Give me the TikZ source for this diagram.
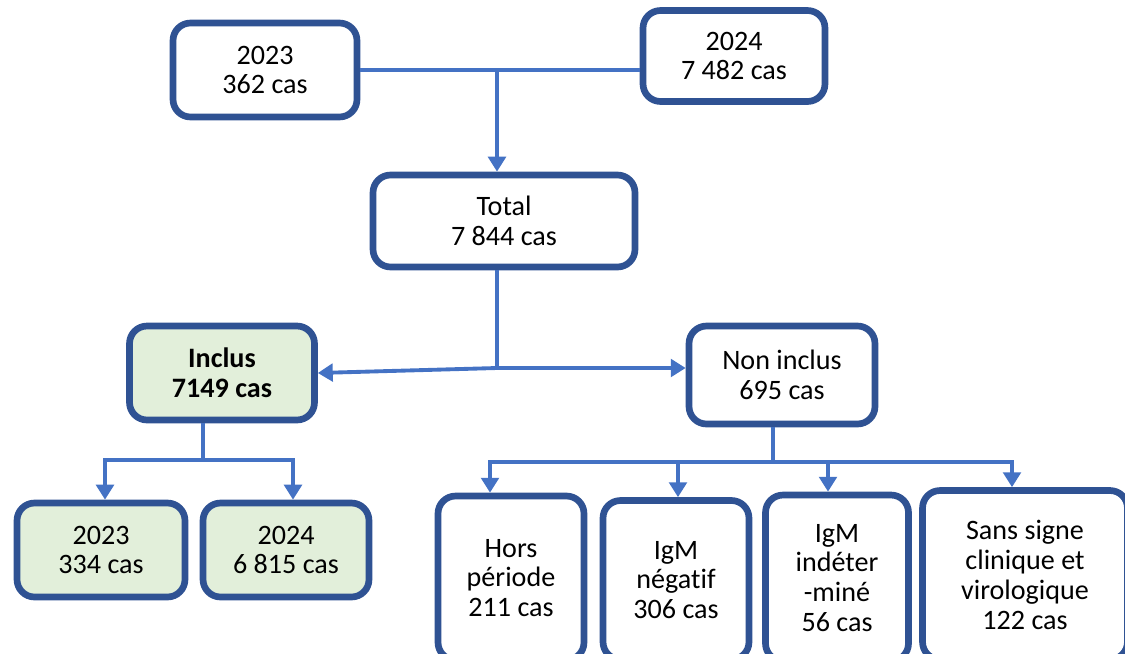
\documentclass[tikz,border=0pt]{standalone}
\usepackage{fontspec}
\setmainfont{Carlito}[Ligatures=NoCommon]
\usetikzlibrary{arrows.meta}
\definecolor{boxblue}{HTML}{2F5293}
\definecolor{linkblue}{HTML}{4472C4}
\definecolor{incgreen}{HTML}{E2EFDA}

\begin{document}
\begin{tikzpicture}[x=0.02cm,y=-0.02cm,>={Triangle[width=10pt,length=8.5pt]},
  cbox/.style={draw=boxblue,line width=3.8pt,rounded corners=0.35cm,fill=white,align=center,inner sep=2pt,font=\fontsize{16}{17}\selectfont},
  ibox/.style={cbox,fill=incgreen},
  link/.style={draw=linkblue,line width=2.2pt}]
  \useasboundingbox (0,0) rectangle (1125,653);
  \node[cbox,minimum width=3.68cm,minimum height=1.88cm] (y23) at (265,70)  {2023\\362 cas};
  \node[cbox,minimum width=3.64cm,minimum height=1.82cm] (y24) at (734,56)  {2024\\7 482 cas};
  \node[cbox,minimum width=5.24cm,minimum height=1.84cm] (tot) at (504,221) {Total\\7 844 cas};
  \node[ibox,minimum width=3.70cm,minimum height=1.88cm] (inc) at (222,373) {\bfseries Inclus\\\bfseries 7149 cas};
  \node[cbox,minimum width=3.72cm,minimum height=1.96cm] (non) at (782,375) {Non inclus\\695 cas};
  \node[ibox,minimum width=3.36cm,minimum height=1.88cm] (i23) at (101,550) {2023\\334 cas};
  \node[ibox,minimum width=3.32cm,minimum height=1.88cm] (i24) at (286,550) {2024\\6 815 cas};
  \node[cbox,minimum width=2.92cm,minimum height=3.28cm] (hors) at (511,578) {Hors\\période\\211 cas};
  \node[cbox,minimum width=2.92cm,minimum height=3.18cm] (neg)  at (676,580) {IgM\\négatif\\306 cas};
  \node[cbox,minimum width=2.86cm,minimum height=3.32cm] (ind)  at (837,578) {IgM\\indéter\\-miné\\56 cas};
  \node[cbox,minimum width=4.10cm,minimum height=3.38cm] (sans) at (1025,575) {Sans signe\\clinique et\\virologique\\122 cas};

  % years to total
  \coordinate (j1) at (497,70);
  \path (y23.east) edge[link] (y23.east -| y24.west);
  \path[->] (j1) edge[link] (j1 |- tot.north);

  % total to inclus / non inclus
  \coordinate (j2) at (497,368);
  \path (j2 |- tot.south) edge[link] (j2);
  \path[->] (j2) edge[link] (inc.east);
  \path[->] (j2) edge[link] (j2 -| non.west);

  % inclus by year
  \coordinate (j3) at (203,460);
  \path (j3 |- inc.south) edge[link] (j3);
  \draw[link,->] (j3) -| ([xshift=0.08cm]i23.north);
  \draw[link,->] (j3) -| ([xshift=0.14cm]i24.north);

  % non inclus by reason
  \coordinate (j4) at (773,462);
  \path (j4 |- non.south) edge[link] (j4);
  \foreach \n/\dx in {hors/-0.42cm,neg/0.04cm,ind/-0.18cm,sans/-0.26cm}
    \draw[link,->] (j4) -| ([xshift=\dx]\n.north);
\end{tikzpicture}
\end{document}
